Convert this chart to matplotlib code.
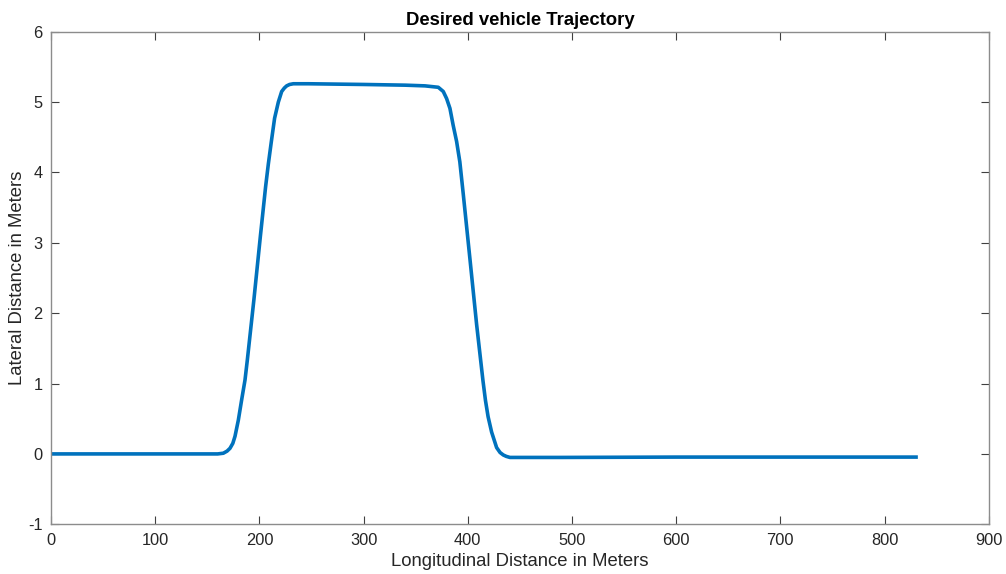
import matplotlib
matplotlib.use("Agg")
import matplotlib.pyplot as plt

# Longitudinal position (m) and lateral offset (m) of the planned path
x_long = [0, 160, 165.4, 169, 171.8, 174.5, 176.6, 179.8, 183, 186.2, 188.4,
          194.8, 201, 206, 208.6, 211.4, 214.6, 218.2, 221.4, 224, 226.2,
          229, 232.6, 247, 300, 340, 359, 371.7, 376.5, 379.7, 382.9, 386,
          389.3, 392.4, 395.7, 402.1, 408.5, 414.6, 417, 419.5, 422.9, 427.7,
          431, 434.1, 437, 440.5, 488.5, 600, 700, 832]
y_lat = [0, 0, 0.01, 0.04, 0.08, 0.15, 0.25, 0.48, 0.77, 1.05, 1.33,
         2.2, 3.1, 3.8, 4.12, 4.43, 4.77, 5.0, 5.15, 5.2, 5.23,
         5.25, 5.26, 5.26, 5.25, 5.24, 5.23, 5.21, 5.15, 5.05, 4.91, 4.67,
         4.44, 4.15, 3.69, 2.77, 1.84, 1.04, 0.76, 0.53, 0.31, 0.09,
         0.02, -0.015, -0.035, -0.05, -0.05, -0.045, -0.045, -0.045]

x_ticks = [0, 100, 200, 300, 400, 500, 600, 700, 800, 900]
y_ticks = [-1, 0, 1, 2, 3, 4, 5, 6]

plt.rcParams['font.family'] = ['Liberation Sans', 'DejaVu Sans']
plt.rcParams['axes.unicode_minus'] = False

fig = plt.figure(figsize=(10.06, 5.74), dpi=100)
ax = fig.add_axes([0.0507, 0.0866, 0.9321, 0.8582])

ax.plot(x_long, y_lat, color='#0072BD', linewidth=2.6,
        solid_joinstyle='round', solid_capstyle='butt')

ax.set_xlim(0, 900)
ax.set_ylim(-1, 6)
ax.set_xticks(x_ticks)
ax.set_yticks(y_ticks)

edge = '#8c8c8c'
for s in ax.spines.values():
    s.set_color(edge)
    s.set_linewidth(1.0)
ax.tick_params(direction='in', length=6, width=0.8, color='#404040',
               labelsize=11.8, labelcolor='#262626', top=True, right=True, pad=6)

ax.set_title('Desired vehicle Trajectory', fontsize=13.3, fontweight='bold',
             color='black', pad=5)
ax.set_xlabel('Longitudinal Distance in Meters', fontsize=13.3, color='#262626')
ax.set_ylabel('Lateral Distance in Meters', fontsize=13.3, color='#262626')
ax.xaxis.set_label_coords(0.5, -0.058)
ax.yaxis.set_label_coords(-0.027, 0.5)

fig.savefig('out.png', dpi=100)
